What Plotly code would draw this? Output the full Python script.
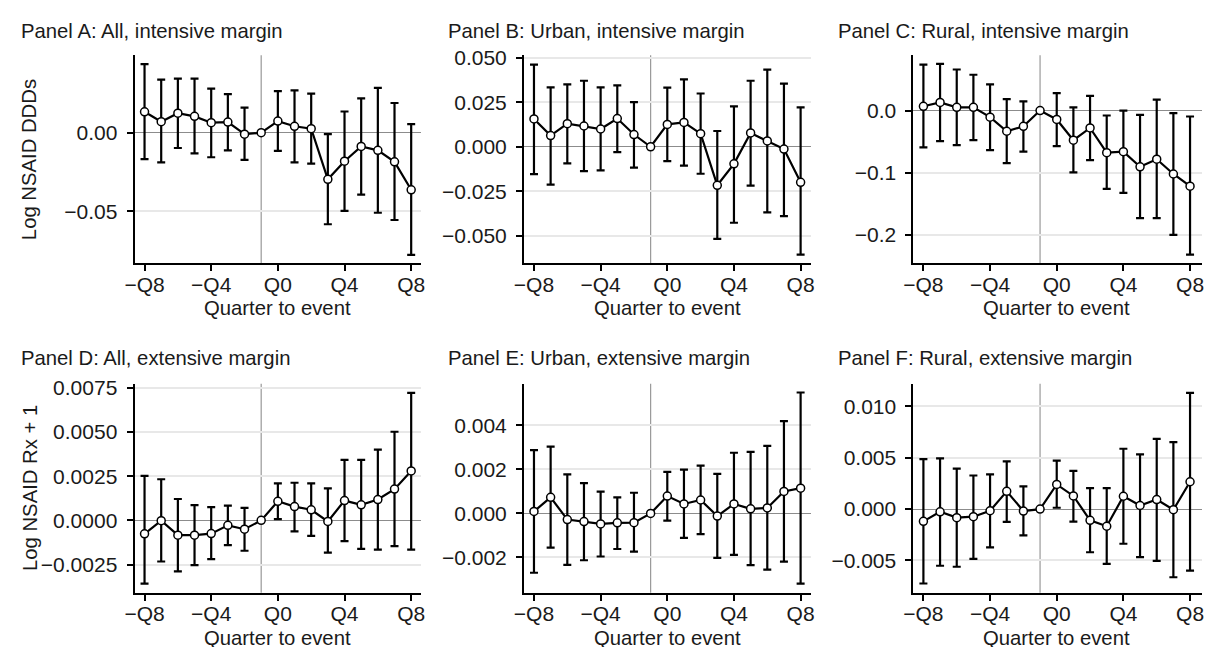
import plotly.graph_objects as go

W, H = 1208, 647

quarters = [-8, -7, -6, -5, -4, -3, -2, -1, 0, 1, 2, 3, 4, 5, 6, 7, 8]
tick_vals = [-8, -4, 0, 4, 8]
tick_text = ["\u2212Q8", "\u2212Q4", "Q0", "Q4", "Q8"]
event_line_x = -1

titles = ["Panel A: All, intensive margin", "Panel B: Urban, intensive margin",
          "Panel C: Rural, intensive margin", "Panel D: All, extensive margin",
          "Panel E: Urban, extensive margin", "Panel F: Rural, extensive margin"]
y_titles = ["Log NSAID DDDs", "Log NSAID Rx + 1"]
x_title = "Quarter to event"

# Panel A
a_est = [0.0133, 0.0070, 0.0124, 0.0104, 0.0064, 0.0068, -0.0009, 0.0, 0.0074, 0.0041, 0.0026,
         -0.0296, -0.0181, -0.0087, -0.0112, -0.0185, -0.0363]
a_lo = [-0.0168, -0.0189, -0.0097, -0.0131, -0.0156, -0.0112, -0.0172, 0.0, -0.0116, -0.0189, -0.0196,
        -0.0582, -0.0497, -0.0394, -0.0509, -0.0555, -0.0777]
a_hi = [0.0436, 0.0338, 0.0344, 0.0344, 0.0281, 0.0246, 0.0160, 0.0, 0.0265, 0.0269, 0.0248,
        -0.0009, 0.0135, 0.0218, 0.0285, 0.0189, 0.0055]
a_ticks = [-0.05, 0.0]

# Panel B
b_est = [0.0157, 0.0063, 0.0130, 0.0117, 0.0100, 0.0159, 0.0069, 0.0, 0.0126, 0.0137, 0.0074,
         -0.0217, -0.0096, 0.0078, 0.0033, -0.0013, -0.0200]
b_lo = [-0.0154, -0.0213, -0.0094, -0.0137, -0.0133, -0.0030, -0.0117, 0.0, -0.0081, -0.0106, -0.0152,
        -0.0519, -0.0428, -0.0219, -0.0370, -0.0391, -0.0607]
b_hi = [0.0463, 0.0335, 0.0352, 0.0372, 0.0335, 0.0346, 0.0252, 0.0, 0.0333, 0.0380, 0.0300,
        0.0089, 0.0228, 0.0372, 0.0435, 0.0356, 0.0222]
b_ticks = [-0.05, -0.025, 0.0, 0.025, 0.05]

# Panel C
c_est = [0.0069, 0.0132, 0.0053, 0.0053, -0.0106, -0.0333, -0.0254, 0.0, -0.0143, -0.0476, -0.0280,
         -0.0677, -0.0661, -0.0905, -0.0783, -0.1021, -0.1217]
c_lo = [-0.0593, -0.0492, -0.0556, -0.0476, -0.0635, -0.0847, -0.0661, 0.0, -0.0571, -0.0995, -0.0799,
        -0.1259, -0.1323, -0.1730, -0.1730, -0.2000, -0.2317]
c_hi = [0.0740, 0.0751, 0.0661, 0.0577, 0.0423, 0.0185, 0.0148, 0.0, 0.0280, 0.0053, 0.0238,
        -0.0079, 0.0000, -0.0069, 0.0175, -0.0042, -0.0095]
c_ticks = [-0.2, -0.1, 0.0]

# Panel D
d_est = [-0.00076, -0.00002, -0.00084, -0.00084, -0.00075, -0.00028, -0.00050, 0.0, 0.00108, 0.00078,
         0.00060, -0.00006, 0.00112, 0.00088, 0.00118, 0.00177, 0.00280]
d_lo = [-0.00358, -0.00233, -0.00289, -0.00254, -0.00220, -0.00140, -0.00172, 0.0, 0.00007, -0.00062,
        -0.00088, -0.00183, -0.00118, -0.00162, -0.00166, -0.00146, -0.00166]
d_hi = [0.00252, 0.00233, 0.00121, 0.00086, 0.00075, 0.00084, 0.00071, 0.0, 0.00209, 0.00213,
        0.00209, 0.00181, 0.00343, 0.00343, 0.00401, 0.00502, 0.00722]
d_ticks = [-0.0025, 0.0, 0.0025, 0.005, 0.0075]

# Panel E
e_est = [0.00009, 0.00073, -0.00028, -0.00037, -0.00048, -0.00043, -0.00042, 0.0, 0.00079, 0.00043,
         0.00061, -0.00012, 0.00043, 0.00021, 0.00025, 0.00100, 0.00115]
e_lo = [-0.00270, -0.00156, -0.00234, -0.00213, -0.00196, -0.00162, -0.00174, 0.0, -0.00033, -0.00111,
        -0.00094, -0.00202, -0.00189, -0.00235, -0.00256, -0.00219, -0.00319]
e_hi = [0.00288, 0.00304, 0.00178, 0.00138, 0.00099, 0.00073, 0.00094, 0.0, 0.00189, 0.00199,
        0.00217, 0.00180, 0.00276, 0.00280, 0.00307, 0.00420, 0.00550]
e_ticks = [-0.002, 0.0, 0.002, 0.004]

# Panel F
f_est = [-0.00119, -0.00026, -0.00083, -0.00074, -0.00016, 0.00173, -0.00019, 0.0, 0.00240, 0.00128,
         -0.00109, -0.00167, 0.00125, 0.00035, 0.00093, -0.00006, 0.00266]
f_lo = [-0.00724, -0.00551, -0.00561, -0.00484, -0.00372, -0.00125, -0.00256, 0.0, 0.00013, -0.00122,
        -0.00420, -0.00532, -0.00337, -0.00468, -0.00503, -0.00663, -0.00599]
f_hi = [0.00487, 0.00494, 0.00394, 0.00327, 0.00337, 0.00465, 0.00221, 0.0, 0.00471, 0.00372,
        0.00205, 0.00205, 0.00587, 0.00532, 0.00683, 0.00651, 0.01131]
f_ticks = [-0.005, 0.0, 0.005, 0.010]

panels = [
    (a_est, a_lo, a_hi, a_ticks, ".2f", [-0.0831, 0.0492]),
    (b_est, b_lo, b_hi, b_ticks, ".3f", [-0.0657, 0.0515]),
    (c_est, c_lo, c_hi, c_ticks, ".1f", [-0.246, 0.0889]),
    (d_est, d_lo, d_hi, d_ticks, ".4f", [-0.0041, 0.00774]),
    (e_est, e_lo, e_hi, e_ticks, ".3f", [-0.00361, 0.0059]),
    (f_est, f_lo, f_hi, f_ticks, ".3f", [-0.00814, 0.0122]),
]

# layout in page pixels
col_left = [126, 520, 914]
col_right = [416, 810, 1206]
x_left_val = -8.6
px_per_q = 290 / 17.2
row_top = [47, 380]
row_bot = [258, 592]
title_x = [9, 441, 836]
title_y = [22, 354]
xtitle_y = [303, 638]


def px(x):
    return x / W


def py(y):
    return 1 - y / H


FONT = "Liberation Sans, Arial, sans-serif"
FS = 21
FS_T = 20.3
TXT = "#1a1a1a"

fig = go.Figure()
annotations = []
shapes = []
for i, (est, lo, hi, ticks, fmt, yr) in enumerate(panels):
    r, c = divmod(i, 3)
    n = i + 1
    xa = "x" if n == 1 else f"x{n}"
    ya = "y" if n == 1 else f"y{n}"
    plus = [h - e for h, e in zip(hi, est)]
    minus = [e - l for e, l in zip(est, lo)]
    fig.add_trace(go.Scatter(
        x=quarters, y=est, mode="markers", xaxis=xa, yaxis=ya,
        marker=dict(size=1, color="rgba(0,0,0,0)"),
        error_y=dict(type="data", symmetric=False, array=plus, arrayminus=minus,
                     color="black", thickness=2.2, width=4),
        showlegend=False, hoverinfo="skip"))
    fig.add_trace(go.Scatter(
        x=quarters, y=est, mode="lines+markers", xaxis=xa, yaxis=ya,
        line=dict(color="black", width=2.2),
        marker=dict(size=8, color="white", line=dict(color="black", width=1.5)),
        showlegend=False))
    x_right_val = x_left_val + (col_right[c] - col_left[c]) / px_per_q
    axis_common = dict(showline=True, linecolor="black", linewidth=2, ticks="outside",
                       tickcolor="black", tickwidth=2, ticklen=6,
                       tickfont=dict(family=FONT, size=FS, color=TXT))
    fig.layout[f"xaxis{n if n > 1 else ''}"] = dict(
        domain=[px(col_left[c]), px(col_right[c])], anchor=ya, range=[x_left_val, x_right_val],
        tickvals=tick_vals, ticktext=tick_text, showgrid=False, zeroline=False,
        ticklabelstandoff=-5, ticklabeloverflow="allow", **axis_common)
    fig.layout[f"yaxis{n if n > 1 else ''}"] = dict(
        domain=[py(row_bot[r]), py(row_top[r])], anchor=xa, range=yr, tickvals=ticks, tickformat=fmt,
        showgrid=True, gridcolor="#e8e8e8", gridwidth=1.5,
        zeroline=True, zerolinecolor="#8c8c8c", zerolinewidth=1.2,
        ticklabelstandoff=5, **axis_common)
    shapes.append(dict(type="line", xref=xa, yref="paper", x0=event_line_x, x1=event_line_x,
                       y0=py(row_bot[r]), y1=py(row_top[r]),
                       line=dict(color="#999999", width=1.2), layer="below"))
    annotations.append(dict(text=titles[i], xref="paper", yref="paper",
                            x=px(title_x[c]), y=py(title_y[r]),
                            xanchor="left", yanchor="middle", showarrow=False,
                            font=dict(family=FONT, size=FS_T, color=TXT)))
    annotations.append(dict(text=x_title, xref=xa, yref="paper",
                            x=0, y=py(xtitle_y[r]),
                            xanchor="center", yanchor="middle", showarrow=False,
                            font=dict(family=FONT, size=FS_T, color=TXT)))
    if c == 0:
        annotations.append(dict(text=y_titles[r], xref="paper", yref="paper",
                                x=px(20), y=py((row_top[r] + row_bot[r]) / 2),
                                xanchor="center", yanchor="middle", textangle=-90, showarrow=False,
                                font=dict(family=FONT, size=FS_T, color=TXT)))

fig.update_layout(width=W, height=H, margin=dict(l=0, r=0, t=0, b=0),
                  paper_bgcolor="white", plot_bgcolor="white",
                  annotations=annotations, shapes=shapes, showlegend=False)
fig.write_html("out.html", config={"displayModeBar": False},
               post_script="document.body.style.margin='0';document.body.style.overflow='hidden';")
